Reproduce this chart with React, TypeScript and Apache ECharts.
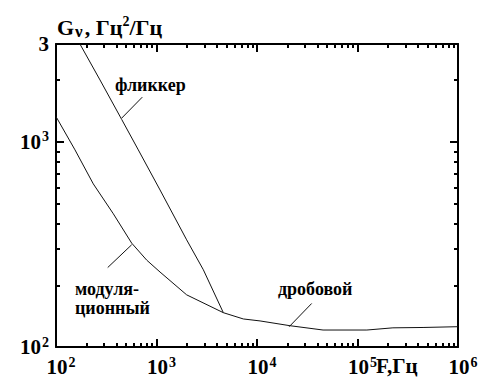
import React, { useEffect, useRef } from 'react';
import * as echarts from 'echarts';

// Frequencies F (Hz) and spectral density G (Hz^2/Hz)
const freqModulation = [100, 154.5, 235, 372, 566, 800, 1084, 1995, 4624, 7311, 10720, 21300, 45400, 124000, 225000, 449000, 1000000];
const gModulation = [1328, 914, 624, 446, 321, 265, 232, 179.6, 147, 137, 134, 127, 121, 121, 124, 124.5, 125.6];

const freqFlicker = [173, 274, 451, 659, 1084, 1995, 2924, 4624];
const gFlicker = [3000, 2004, 1285, 914, 583, 333, 238, 147];

// leader lines (F, G) pairs
const leaderFlickerF = [451, 722];
const leaderFlickerG = [1306, 1652];
const leaderModF = [566, 327];
const leaderModG = [315, 244];
const leaderShotF = [20900, 35000];
const leaderShotG = [125.6, 163];

const xMajorTicks = [100, 1000, 10000, 100000, 1000000];
const yMajorTicks = [100, 1000];
const yLabelValues = [100, 1000, 3000];
const xMin = 100, xMax = 1000000, yMin = 100, yMax = 3000;

const minorOf = (lo: number, hi: number) => {
  const out: number[] = [];
  for (let d = lo; d < hi; d *= 10) {
    for (let k = 2; k <= 9; k++) if (d * k < hi) out.push(d * k);
  }
  return out;
};
const xMinorTicks = minorOf(100, 1000000);
const yMinorTicks = minorOf(100, 3000);

const FONT = 'Liberation Serif';
const BLACK = '#000';
const lg = Math.log10;

const zip = (a: number[], b: number[]) => a.map((v, i) => [lg(v), lg(b[i])]);

export default function App() {
  const ref = useRef<HTMLDivElement>(null);
  useEffect(() => {
    if (!ref.current) return;
    const chart = echarts.init(ref.current, null, { renderer: 'svg' });
    const supRich = {
      b: { fontFamily: FONT, fontWeight: 'bold', fontSize: 21, color: BLACK, lineHeight: 24 },
      s: { fontFamily: FONT, fontWeight: 'bold', fontSize: 14, color: BLACK, verticalAlign: 'top', lineHeight: 24, padding: [0, 0, 10, 1] },
    };
    const expLabel = (v: number) => {
      if (Math.abs(v - lg(3000)) < 0.01) return '{b|3}';
      return '{b|10}{s|' + Math.round(v) + '}';
    };
    const line = { show: true, lineStyle: { color: BLACK, width: 2 } };
    const noLine = { show: false };
    const xBase = (pos: string, labels: boolean) => ({
      type: 'value', min: lg(xMin), max: lg(xMax), interval: 1, position: pos,
      axisLine: line, axisTick: { show: false }, splitLine: { show: false },
      axisLabel: labels
        ? { show: true, customValues: xMajorTicks.map(lg), formatter: expLabel, rich: supRich, margin: 8, padding: [0, 0, 0, 10] }
        : { show: false },
    });
    const xTicks = (pos: string, ticks: number[], len: number) => ({
      type: 'value', min: lg(xMin), max: lg(xMax), interval: 1, position: pos, offset: -len,
      axisLine: noLine, splitLine: { show: false }, axisLabel: { show: false },
      axisTick: { show: true, length: len, customValues: ticks.map(lg), lineStyle: { color: BLACK, width: 2 } },
    });
    const yBase = (pos: string, labels: boolean) => ({
      type: 'value', min: lg(yMin), max: lg(yMax), position: pos,
      axisLine: line, axisTick: { show: false }, splitLine: { show: false },
      axisLabel: labels
        ? { show: true, customValues: yLabelValues.map(lg), formatter: expLabel, rich: supRich, margin: 7 }
        : { show: false },
    });
    const yTicks = (pos: string, ticks: number[], len: number) => ({
      type: 'value', min: lg(yMin), max: lg(yMax), position: pos, offset: -len,
      axisLine: noLine, splitLine: { show: false }, axisLabel: { show: false },
      axisTick: { show: true, length: len, customValues: ticks.map(lg), lineStyle: { color: BLACK, width: 2 } },
    });
    const mkSeries = (data: number[][]) => ({
      type: 'line', data, showSymbol: false, symbol: 'none', smooth: false,
      lineStyle: { color: '#111', width: 1 }, silent: true, xAxisIndex: 0, yAxisIndex: 0,
    });
    const labelStyle = { fontFamily: FONT, fontWeight: 'bold', fontSize: 18, fill: BLACK };
    chart.setOption({
      animation: false,
      backgroundColor: '#fff',
      grid: { left: 56, right: 27, top: 44, bottom: 33 },
      title: {
        text: '{g|G}{n|ν}{c|, Гц}{s|2}{c|/Гц}',
        left: 52, top: 9,
        textStyle: {
          rich: {
            g: { fontFamily: FONT, fontWeight: 'bold', fontSize: 22, color: BLACK, lineHeight: 26 },
            n: { fontFamily: FONT, fontWeight: 'bold', fontSize: 17, color: BLACK, verticalAlign: 'bottom', lineHeight: 26, padding: [6, 2, 0, 1] },
            c: { fontFamily: FONT, fontWeight: 'bold', fontSize: 22, color: BLACK, lineHeight: 26 },
            s: { fontFamily: FONT, fontWeight: 'bold', fontSize: 14, color: BLACK, verticalAlign: 'top', lineHeight: 26, padding: [0, 0, 10, 0] },
          },
        },
      },
      xAxis: [
        xBase('bottom', true),
        xBase('top', false),
        xTicks('bottom', xMajorTicks, 8),
        xTicks('bottom', xMinorTicks, 4),
        xTicks('top', xMajorTicks, 8),
        xTicks('top', xMinorTicks, 4),
      ],
      yAxis: [
        yBase('left', true),
        yBase('right', false),
        yTicks('left', yMajorTicks, 8),
        yTicks('left', yMinorTicks, 4),
        yTicks('right', yMajorTicks, 8),
        yTicks('right', yMinorTicks, 4),
      ],
      series: [
        mkSeries(zip(freqModulation, gModulation)),
        mkSeries(zip(freqFlicker, gFlicker)),
        mkSeries(zip(leaderFlickerF, leaderFlickerG)),
        mkSeries(zip(leaderModF, leaderModG)),
        mkSeries(zip(leaderShotF, leaderShotG)),
      ],
      graphic: [
        { type: 'text', left: 115, top: 76, style: { ...labelStyle, text: 'фликкер' } },
        { type: 'text', left: 75, top: 279, style: { ...labelStyle, text: 'модуля-\nционный', lineHeight: 19 } },
        { type: 'text', left: 278, top: 280, style: { ...labelStyle, text: 'дробовой' } },
        { type: 'text', left: 376, top: 355, style: { fontFamily: FONT, fontWeight: 'bold', fontSize: 21, fill: BLACK, text: 'F,Гц' } },
      ],
    });
    return () => chart.dispose();
  }, []);
  return <div ref={ref} style={{ position: 'fixed', left: 0, top: 0, width: 485, height: 380, background: '#fff' }} />;
}
